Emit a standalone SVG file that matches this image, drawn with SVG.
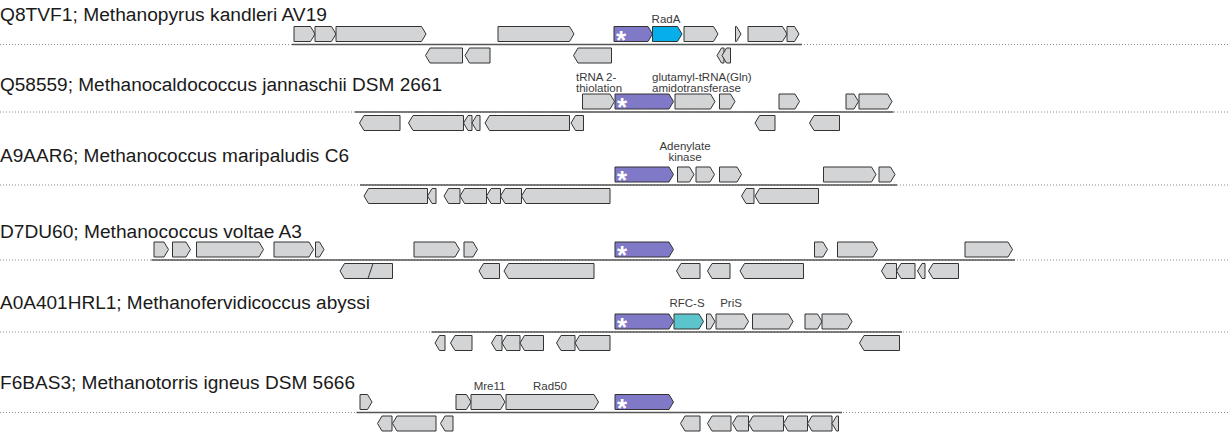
<svg xmlns="http://www.w3.org/2000/svg" width="1228" height="438" viewBox="0 0 1228 438">
<style>
  .title{font-family:"Liberation Sans",Arial,sans-serif;font-size:18px;fill:#1a1a1a}
  .lab{font-family:"Liberation Sans",Arial,sans-serif;font-size:11.5px;fill:#3a3a3a}
  .g path{stroke:#333;stroke-width:1;stroke-linejoin:miter}
  .gr{fill:#d3d4d6}
  .st{fill:#8079c7}
  .cy{fill:#06aeea}
  .tl{fill:#5bc4cd}
  .ast{font-family:"Liberation Sans",Arial,sans-serif;font-size:26px;font-weight:bold;fill:#fff}
  .dot{stroke:#888;stroke-width:1;stroke-dasharray:1 2}
  .bb{stroke:#555;stroke-width:1.5}
</style>

<!-- chromosome backbones: dotted full width, solid over the shown region -->
<g id="backbones">
  <line class="dot" x1="0" y1="44.5" x2="1228" y2="44.5"/>
  <line class="bb" x1="292" y1="44.5" x2="802" y2="44.5"/>
  <line class="dot" x1="0" y1="112" x2="1228" y2="112"/>
  <line class="bb" x1="355" y1="112" x2="893.5" y2="112"/>
  <line class="dot" x1="0" y1="185" x2="1228" y2="185"/>
  <line class="bb" x1="360" y1="185" x2="897" y2="185"/>
  <line class="dot" x1="0" y1="260" x2="1228" y2="260"/>
  <line class="bb" x1="151.5" y1="260" x2="1015" y2="260"/>
  <line class="dot" x1="0" y1="332" x2="1228" y2="332"/>
  <line class="bb" x1="431.5" y1="332" x2="902" y2="332"/>
  <line class="dot" x1="0" y1="412.5" x2="1228" y2="412.5"/>
  <line class="bb" x1="356.5" y1="412.5" x2="842" y2="412.5"/>
</g>

<!-- Q8TVF1 -->
<g id="row-Q8TVF1" class="g">
  <text class="title" x="0" y="20.7" textLength="327" lengthAdjust="spacingAndGlyphs">Q8TVF1; Methanopyrus kandleri AV19</text>
  <text class="lab" x="666" y="23.3" text-anchor="middle">RadA</text>
  <path class="gr" d="M294 26.5H310.5l4.5 7.5-4.5 7.5H294z"/>
  <path class="gr" d="M315 26.5H331.5l4.5 7.5-4.5 7.5H315z"/>
  <path class="gr" d="M336 26.5H421.5l4.5 7.5-4.5 7.5H336z"/>
  <path class="gr" d="M498 26.5H569.5l4.5 7.5-4.5 7.5H498z"/>
  <path class="st" d="M614 26.5H648l4.5 7.5-4.5 7.5H614z"/>
  <path class="cy" d="M652.5 26.5H677.5l4.5 7.5-4.5 7.5H652.5z"/>
  <path class="gr" d="M684 26.5H713.5l4.5 7.5-4.5 7.5H684z"/>
  <path class="gr" d="M735.5 26.5H736.5l4.5 7.5-4.5 7.5H735.5z"/>
  <path class="gr" d="M748 26.5H782.5l4.5 7.5-4.5 7.5H748z"/>
  <path class="gr" d="M787 26.5H794.5l4.5 7.5-4.5 7.5H787z"/>
  <path class="gr" d="M462.5 48H430l-4.5 7.5 4.5 7.5H462.5z"/>
  <path class="gr" d="M490 48H469.5l-4.5 7.5 4.5 7.5H490z"/>
  <path class="gr" d="M611.5 48H578l-4.5 7.5 4.5 7.5H611.5z"/>
  <path class="gr" d="M724 48H721.5l-4.5 7.5 4.5 7.5H724z"/>
  <path class="gr" d="M730.5 48H726.5l-4.5 7.5 4.5 7.5H730.5z"/>
  <text class="ast" x="616" y="48.5">*</text>
</g>

<!-- Q58559 -->
<g id="row-Q58559" class="g">
  <text class="title" x="0" y="91" textLength="442" lengthAdjust="spacingAndGlyphs">Q58559; Methanocaldococcus jannaschii DSM 2661</text>
  <text class="lab" x="576" y="80.5">tRNA 2-</text>
  <text class="lab" x="576" y="91.5">thiolation</text>
  <text class="lab" x="652" y="80.5">glutamyl-tRNA(Gln)</text>
  <text class="lab" x="652" y="91.5">amidotransferase</text>
  <path class="gr" d="M582.5 94H610l4.5 7.5-4.5 7.5H582.5z"/>
  <path class="st" d="M615 94H669l4.5 7.5-4.5 7.5H615z"/>
  <path class="gr" d="M675 94H710.5l4.5 7.5-4.5 7.5H675z"/>
  <path class="gr" d="M719.5 94H730.5l4.5 7.5-4.5 7.5H719.5z"/>
  <path class="gr" d="M779 94H795l4.5 7.5-4.5 7.5H779z"/>
  <path class="gr" d="M846 94H854l4.5 7.5-4.5 7.5H846z"/>
  <path class="gr" d="M859 94H887.5l4.5 7.5-4.5 7.5H859z"/>
  <path class="gr" d="M400 115.5H364l-4.5 7.5 4.5 7.5H400z"/>
  <path class="gr" d="M463.5 115.5H413l-4.5 7.5 4.5 7.5H463.5z"/>
  <path class="gr" d="M472 115.5H468l-4.5 7.5 4.5 7.5H472z"/>
  <path class="gr" d="M480 115.5H476.5l-4.5 7.5 4.5 7.5H480z"/>
  <path class="gr" d="M569.5 115.5H489.5l-4.5 7.5 4.5 7.5H569.5z"/>
  <path class="gr" d="M583.5 115.5H575.5l-4.5 7.5 4.5 7.5H583.5z"/>
  <path class="gr" d="M775 115.5H759.5l-4.5 7.5 4.5 7.5H775z"/>
  <path class="gr" d="M839.5 115.5H814l-4.5 7.5 4.5 7.5H839.5z"/>
  <text class="ast" x="617" y="116">*</text>
</g>

<!-- A9AAR6 -->
<g id="row-A9AAR6" class="g">
  <text class="title" x="0" y="161.7" textLength="349" lengthAdjust="spacingAndGlyphs">A9AAR6; Methanococcus maripaludis C6</text>
  <text class="lab" x="685" y="149.5" text-anchor="middle">Adenylate</text>
  <text class="lab" x="685" y="161" text-anchor="middle">kinase</text>
  <path class="st" d="M615 167H669l4.5 7.5-4.5 7.5H615z"/>
  <path class="gr" d="M677.5 167H689.5l4.5 7.5-4.5 7.5H677.5z"/>
  <path class="gr" d="M696 167H710l4.5 7.5-4.5 7.5H696z"/>
  <path class="gr" d="M719.5 167H737l4.5 7.5-4.5 7.5H719.5z"/>
  <path class="gr" d="M823.5 167H871.5l4.5 7.5-4.5 7.5H823.5z"/>
  <path class="gr" d="M879 167H890.5l4.5 7.5-4.5 7.5H879z"/>
  <path class="gr" d="M427.5 188.5H368.5l-4.5 7.5 4.5 7.5H427.5z"/>
  <path class="gr" d="M436 188.5H432l-4.5 7.5 4.5 7.5H436z"/>
  <path class="gr" d="M460 188.5H448.5l-4.5 7.5 4.5 7.5H460z"/>
  <path class="gr" d="M486.5 188.5H464.5l-4.5 7.5 4.5 7.5H486.5z"/>
  <path class="gr" d="M500.5 188.5H491l-4.5 7.5 4.5 7.5H500.5z"/>
  <path class="gr" d="M521.5 188.5H505l-4.5 7.5 4.5 7.5H521.5z"/>
  <path class="gr" d="M610 188.5H526l-4.5 7.5 4.5 7.5H610z"/>
  <path class="gr" d="M754 188.5H746l-4.5 7.5 4.5 7.5H754z"/>
  <path class="gr" d="M818.5 188.5H759.5l-4.5 7.5 4.5 7.5H818.5z"/>
  <text class="ast" x="617" y="189">*</text>
</g>

<!-- D7DU60 -->
<g id="row-D7DU60" class="g">
  <text class="title" x="0" y="237.7" textLength="302" lengthAdjust="spacingAndGlyphs">D7DU60; Methanococcus voltae A3</text>
  <path class="gr" d="M154 242H164l4.5 7.5-4.5 7.5H154z"/>
  <path class="gr" d="M172.5 242H186l4.5 7.5-4.5 7.5H172.5z"/>
  <path class="gr" d="M196.5 242H259l4.5 7.5-4.5 7.5H196.5z"/>
  <path class="gr" d="M274 242H309l4.5 7.5-4.5 7.5H274z"/>
  <path class="gr" d="M315.5 242H319.5l4.5 7.5-4.5 7.5H315.5z"/>
  <path class="gr" d="M414 242H455l4.5 7.5-4.5 7.5H414z"/>
  <path class="gr" d="M464 242H473l4.5 7.5-4.5 7.5H464z"/>
  <path class="st" d="M615 242H669l4.5 7.5-4.5 7.5H615z"/>
  <path class="gr" d="M814.5 242H823l4.5 7.5-4.5 7.5H814.5z"/>
  <path class="gr" d="M837.5 242H873l4.5 7.5-4.5 7.5H837.5z"/>
  <path class="gr" d="M965 242H1008l4.5 7.5-4.5 7.5H965z"/>
  <path class="gr" d="M392.5 263.5H344.5l-4.5 7.5 4.5 7.5H392.5z"/>
  <path class="gr" d="M373 263.5L368 278.5"/>
  <path class="gr" d="M499.5 263.5H483.5l-4.5 7.5 4.5 7.5H499.5z"/>
  <path class="gr" d="M594 263.5H508.5l-4.5 7.5 4.5 7.5H594z"/>
  <path class="gr" d="M700 263.5H681l-4.5 7.5 4.5 7.5H700z"/>
  <path class="gr" d="M730 263.5H712l-4.5 7.5 4.5 7.5H730z"/>
  <path class="gr" d="M803.5 263.5H744.5l-4.5 7.5 4.5 7.5H803.5z"/>
  <path class="gr" d="M896.5 263.5H886l-4.5 7.5 4.5 7.5H896.5z"/>
  <path class="gr" d="M915 263.5H901l-4.5 7.5 4.5 7.5H915z"/>
  <path class="gr" d="M925 263.5H922l-4.5 7.5 4.5 7.5H925z"/>
  <path class="gr" d="M958.5 263.5H933l-4.5 7.5 4.5 7.5H958.5z"/>
  <text class="ast" x="617" y="264">*</text>
</g>

<!-- A0A401HRL1 -->
<g id="row-A0A401HRL1" class="g">
  <text class="title" x="0" y="309" textLength="370" lengthAdjust="spacingAndGlyphs">A0A401HRL1; Methanofervidicoccus abyssi</text>
  <text class="lab" x="687" y="307" text-anchor="middle">RFC-S</text>
  <text class="lab" x="731" y="307" text-anchor="middle">PriS</text>
  <path class="st" d="M615 314H669l4.5 7.5-4.5 7.5H615z"/>
  <path class="tl" d="M674 314H699l4.5 7.5-4.5 7.5H674z"/>
  <path class="gr" d="M706.5 314H710.5l4.5 7.5-4.5 7.5H706.5z"/>
  <path class="gr" d="M716 314H744l4.5 7.5-4.5 7.5H716z"/>
  <path class="gr" d="M752.5 314H788.5l4.5 7.5-4.5 7.5H752.5z"/>
  <path class="gr" d="M805 314H817.5l4.5 7.5-4.5 7.5H805z"/>
  <path class="gr" d="M822 314H847.5l4.5 7.5-4.5 7.5H822z"/>
  <path class="gr" d="M445 335.5H439.5l-4.5 7.5 4.5 7.5H445z"/>
  <path class="gr" d="M472 335.5H455l-4.5 7.5 4.5 7.5H472z"/>
  <path class="gr" d="M502 335.5H496l-4.5 7.5 4.5 7.5H502z"/>
  <path class="gr" d="M520 335.5H506.5l-4.5 7.5 4.5 7.5H520z"/>
  <path class="gr" d="M543.5 335.5H524.5l-4.5 7.5 4.5 7.5H543.5z"/>
  <path class="gr" d="M575 335.5H561l-4.5 7.5 4.5 7.5H575z"/>
  <path class="gr" d="M610 335.5H579.5l-4.5 7.5 4.5 7.5H610z"/>
  <path class="gr" d="M899.5 335.5H864l-4.5 7.5 4.5 7.5H899.5z"/>
  <text class="ast" x="617" y="336">*</text>
</g>

<!-- F6BAS3 -->
<g id="row-F6BAS3" class="g">
  <text class="title" x="0" y="389" textLength="355" lengthAdjust="spacingAndGlyphs">F6BAS3; Methanotorris igneus DSM 5666</text>
  <text class="lab" x="489.5" y="390" text-anchor="middle">Mre11</text>
  <text class="lab" x="550" y="390" text-anchor="middle">Rad50</text>
  <path class="gr" d="M360 394.5H367.5l4.5 7.5-4.5 7.5H360z"/>
  <path class="gr" d="M456 394.5H466.5l4.5 7.5-4.5 7.5H456z"/>
  <path class="gr" d="M471 394.5H500.5l4.5 7.5-4.5 7.5H471z"/>
  <path class="gr" d="M506 394.5H594l4.5 7.5-4.5 7.5H506z"/>
  <path class="st" d="M615 394.5H669l4.5 7.5-4.5 7.5H615z"/>
  <path class="gr" d="M392 416H382l-4.5 7.5 4.5 7.5H392z"/>
  <path class="gr" d="M436 416H397l-4.5 7.5 4.5 7.5H436z"/>
  <path class="gr" d="M453 416H445l-4.5 7.5 4.5 7.5H453z"/>
  <path class="gr" d="M700 416H685l-4.5 7.5 4.5 7.5H700z"/>
  <path class="gr" d="M731 416H712l-4.5 7.5 4.5 7.5H731z"/>
  <path class="gr" d="M748.5 416H737l-4.5 7.5 4.5 7.5H748.5z"/>
  <path class="gr" d="M783.5 416H753l-4.5 7.5 4.5 7.5H783.5z"/>
  <path class="gr" d="M807.5 416H788l-4.5 7.5 4.5 7.5H807.5z"/>
  <path class="gr" d="M832 416H812l-4.5 7.5 4.5 7.5H832z"/>
  <path class="gr" d="M838.5 416H836.5l-4.5 7.5 4.5 7.5H838.5z"/>
  <text class="ast" x="617" y="416.5">*</text>
</g>
</svg>
